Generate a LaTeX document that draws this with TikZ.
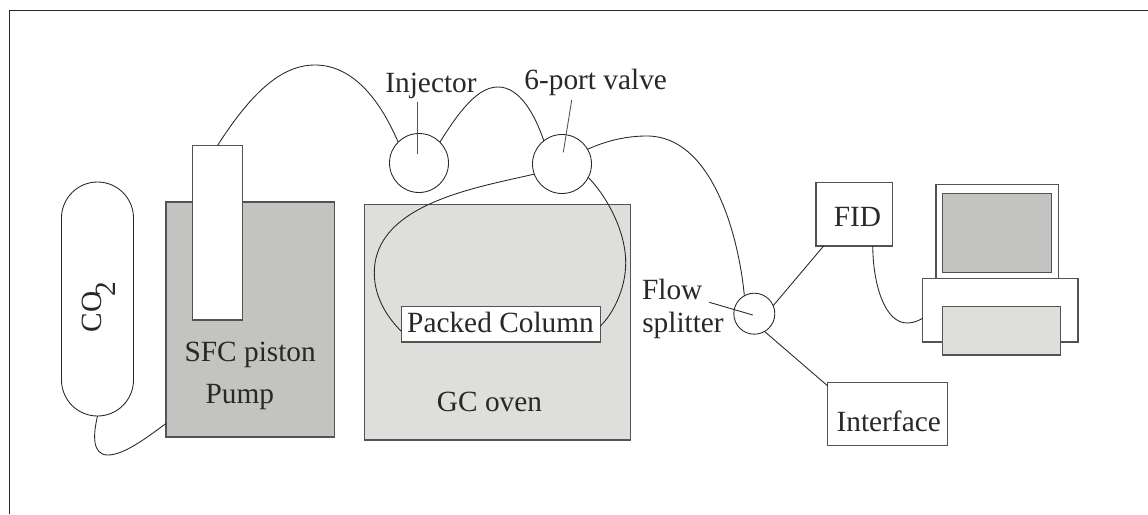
\documentclass[tikz,border=0pt]{standalone}
\usepackage{fontspec}
\setmainfont{Liberation Serif}
\definecolor{ink}{HTML}{2A2725}
\definecolor{edge}{HTML}{55524F}
\definecolor{darkfill}{HTML}{C3C3C1}
\definecolor{lightfill}{HTML}{DEDEDC}
\tikzset{
  px/.style={x=0.75pt,y=-0.75pt},
  wire/.style={draw=ink,line width=0.65pt},
  leader/.style={draw=edge,line width=0.65pt},
  boxed/.style={draw=edge,line width=0.8pt,rectangle,inner sep=0pt,outer sep=0pt},
  valve/.style={draw=ink,line width=0.65pt,circle,inner sep=0pt,outer sep=0pt},
  lbl/.style={inner sep=0pt,outer sep=0pt,anchor=base,text=ink,font=\fontsize{22}{26}\selectfont},
}
\newcommand{\boxat}[6][]{% name, x1,y1,x2,y2
  \node[boxed,#1,minimum width=#5*0.75pt-#3*0.75pt,minimum height=#6*0.75pt-#4*0.75pt] (#2) at ({(#3+#5)/2},{(#4+#6)/2}) {};}
\begin{document}
\begin{tikzpicture}[px]
\useasboundingbox (0,0) rectangle (1148,514);
% frame
\coordinate (fa) at (9,514);
\coordinate (fb) at (9,10);
\coordinate (fc) at (1148,10);
\draw[draw=ink,line width=0.7pt] (fa) -- (fb) -- (fc);
% tank
\node[boxed,draw=ink,line width=0.65pt,rounded corners=27pt,minimum width=54pt,minimum height=175.5pt] (tank) at (97.5,299) {};
% pump and oven
\boxat[fill=darkfill]{pump}{166}{202}{334.5}{437}
\boxat[fill=white]{piston}{192.5}{145.5}{242.5}{320}
\boxat[fill=lightfill]{oven}{364.5}{204.3}{630.7}{440}
% valves
\node[valve,minimum size=44.25pt] (inj) at (419,163) {};
\node[valve,minimum size=44.25pt] (val) at (562,164) {};
\node[valve,minimum size=30.75pt] (split) at (754.3,313.7) {};
% column
\boxat[fill=white]{col}{401.3}{306.7}{600.3}{342}
% detectors
\boxat{fid}{816}{182.3}{892.7}{246}
\boxat{iface}{827.7}{382.3}{947.3}{445.3}
% computer
\boxat{mon}{936}{184.3}{1058.7}{278.3}
\boxat[fill=darkfill]{screen}{942.3}{193.3}{1051.7}{272.3}
\boxat[fill=white]{base}{922.7}{278.3}{1078}{342}
\boxat[fill=lightfill]{drive}{942.3}{306.7}{1060.7}{355}
% connectors
\draw[wire] (piston.north) .. controls (250,95) and (280,65) .. (315,65)
  .. controls (350,65) and (378,95) .. (inj.135);
\draw[wire] (inj.45) .. controls (460,110) and (478,87) .. (498,87)
  .. controls (520,87) and (535,115) .. (val.128);
\draw[wire] (val.30) .. controls (608,140) and (628,136) .. (647,136)
  .. controls (710,136) and (738,230) .. (split.119);
\draw[wire] (val.200) .. controls (480,187) and (374,203) .. (374.3,273)
  .. controls (374.3,300) and (390,320) .. (col.184);
\draw[wire] (val.-27) .. controls (610,200) and (626,235) .. (625.7,263)
  .. controls (625.7,290) and (612,315) .. (col.-1);
\draw[wire] (tank.south) .. controls (93,435) and (92,455) .. (108,455)
  .. controls (125,455) and (150,435) .. (pump.231);
\draw[wire] (fid.-60) .. controls (873,285) and (885,323) .. (907,323)
  .. controls (913,323) and (918,321) .. (base.186);
\draw[wire] (split.23) -- (fid.226.6);
\draw[wire] (split.-60) -- (iface.155);
% leaders
\coordinate (injA) at (417,101.7);
\coordinate (injB) at (417,154.3);
\coordinate (valA) at (571.7,100);
\coordinate (valB) at (563.3,152.3);
\coordinate (splA) at (709.3,302.3);
\coordinate (splB) at (752.7,315);
\draw[leader] (injA) -- (injB);
\draw[leader] (valA) -- (valB);
\draw[wire] (splA) -- (splB);
% labels
\node[lbl] (tInj) at (431,92.7) {Injector};
\node[lbl] (tVal) at (595.7,89.3) {6-port valve};
\node[lbl] (tCol) at (500.5,332.7) {Packed Column};
\node[lbl] (tSfc) at (250.2,361.7) {SFC piston};
\node[lbl] (tPump) at (239.8,403.3) {Pump};
\node[lbl] (tOven) at (489.5,411.7) {GC oven};
\node[lbl] (tFlow) at (672.2,299.3) {Flow};
\node[lbl] (tSplit) at (683,332.7) {splitter};
\node[lbl] (tFid) at (857.5,226) {FID};
\node[lbl] (tIface) at (888.7,431) {Interface};
\node[lbl,rotate=90,anchor=base west] (tCo) at (101.5,332.5) {CO\kern-3.5pt\raisebox{-10.5pt}{2}};
\end{tikzpicture}
\end{document}
